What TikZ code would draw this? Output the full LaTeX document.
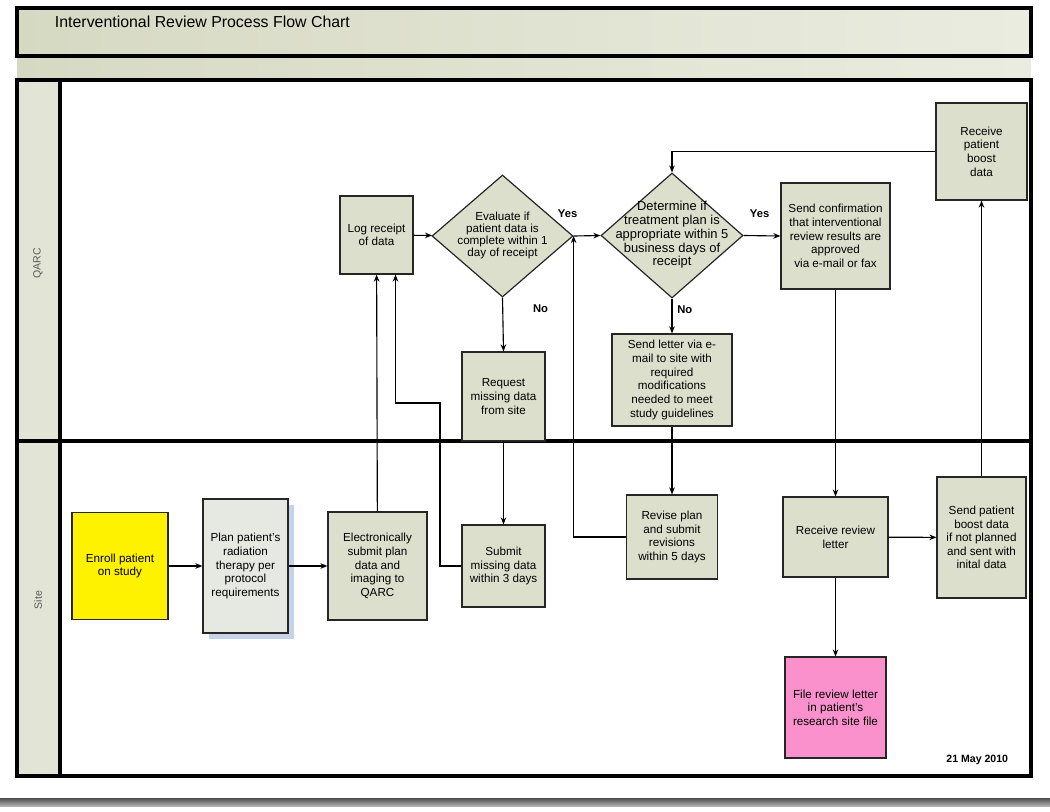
\documentclass[tikz,border=0pt]{standalone}
\usepackage{fontspec}
\setmainfont{Liberation Sans}
\usetikzlibrary{positioning,arrows.meta,shapes,calc,shadows}

\definecolor{boxfill}{RGB}{221,223,205}
\definecolor{bandleft}{RGB}{214,217,194}
\definecolor{bandright}{RGB}{234,236,224}
\definecolor{lanefill}{RGB}{226,228,214}
\definecolor{planfill}{RGB}{230,233,226}
\definecolor{shadowblue}{RGB}{198,212,234}
\definecolor{filepink}{RGB}{250,145,205}

% text set inside a diamond without widening it
\newcommand{\dtext}[1]{\smash{\makebox[0pt]{\raisebox{-0.25em}{\begin{tabular}{@{}c@{}}#1\end{tabular}}}}}

\begin{document}
\begin{tikzpicture}[
    x=0.025cm, y=-0.025cm,
    box/.style={rectangle,draw=black!85,fill=boxfill,line width=0.85pt,align=center,inner sep=1pt,font=\fontsize{8.3}{9.7}\selectfont},
    decision/.style={diamond,draw=black!85,fill=boxfill,line width=0.85pt,inner sep=0pt,font=\fontsize{8.3}{8.6}\selectfont},
    arrow/.style={->,>={Stealth[length=5pt,width=4pt]},line width=0.8pt},
    answer/.style={font=\fontsize{8}{9}\selectfont\bfseries},
    lane/.style={rotate=90,font=\fontsize{7.5}{8}\selectfont,text=black!65},
    frame/.style={line width=2.2pt}
]
    \useasboundingbox (0,0) rectangle (1050,811);
    \fill[white] (0,0) rectangle (1050,811);

    % Title and lanes
    \shade[left color=bandleft,right color=bandright] (17,8) rectangle (1031,56);
    \shade[left color=bandleft,right color=bandright] (17,58) rectangle (1031,78);
    \fill[lanefill] (17,80) rectangle (60,776);
    \draw[frame] (17,8) rectangle (1031,56);
    \draw[frame] (17,80) rectangle (1031,776);
    \draw[frame] (60,80) -- (60,776);
    \draw[frame] (17,441) -- (1031,441);
    \shade[top color=black!70,bottom color=black!30] (0,798) rectangle (1050,806);
    \node[anchor=west,font=\fontsize{11.3}{13}\selectfont] (title) at (50,22) {Interventional Review Process Flow Chart};
    \node[lane] (qarc) at (38,263) {QARC};
    \node[lane] (site) at (38,600) {Site};

    % Site lane
    \node[box,fill=yellow,minimum width=2.4cm,minimum height=2.675cm] (enroll) at (120,566) {Enroll patient\\on study};
    \node[box,fill=planfill,minimum width=2.125cm,minimum height=3.35cm,
          drop shadow={shadow xshift=0.15cm,shadow yshift=-0.15cm,fill=shadowblue,opacity=1}] (plan) at (245.5,566) {Plan patient's\\radiation\\therapy per\\protocol\\requirements};
    \node[box,minimum width=2.475cm,minimum height=2.7cm] (submit) at (377.5,566) {Electronically\\submit plan\\data and\\imaging to\\QARC};
    \node[box,minimum width=2.075cm,minimum height=2.05cm] (missing) at (503.5,566) {Submit\\missing data\\within 3 days};
    \node[box,minimum width=2.275cm,minimum height=2.1cm] (revise) at (672,537) {Revise plan\\and submit\\revisions\\within 5 days};
    \node[box,minimum width=2.625cm,minimum height=2cm] (letterin) at (835.5,537) {Receive review\\letter};
    \node[box,minimum width=2.225cm,minimum height=3.025cm] (boostout) at (981.5,537.5) {Send patient\\boost data\\if not planned\\and sent with\\inital data};
    \node[box,fill=filepink,minimum width=2.525cm,minimum height=2.525cm] (file) at (835.5,707.5) {File review letter\\in patient's\\research site file};
    \node[anchor=east,font=\fontsize{7.5}{9}\selectfont\bfseries] (date) at (1013,760) {21 May 2010};

    % QARC lane
    \node[box,minimum width=1.825cm,minimum height=1.95cm] (log) at (376.5,235) {Log receipt\\of data};
    \node[decision,minimum width=3.525cm,minimum height=3.05cm] (eval) at (502.5,236) {\dtext{Evaluate if\\patient data is\\complete within 1\\day of receipt}};
    \node[decision,minimum width=3.55cm,minimum height=3.125cm,font=\fontsize{9.2}{9.8}\selectfont] (det) at (672,235.5) {\dtext{Determine if\\treatment plan is\\appropriate within 5\\business days of\\receipt}};
    \node[box,minimum width=2.075cm,minimum height=2.225cm] (request) at (503.5,396.5) {Request\\missing data\\from site};
    \node[box,minimum width=3cm,minimum height=2.3cm] (letter) at (672,380) {Send letter via e-\\mail to site with\\required\\modifications\\needed to meet\\study guidelines};
    \node[box,minimum width=2.725cm,minimum height=2.65cm] (confirm) at (835.5,236) {Send confirmation\\that interventional\\review results are\\approved\\via e-mail or fax};
    \node[box,minimum width=2.275cm,minimum height=2.425cm] (boostin) at (981.5,151.5) {Receive\\patient\\boost\\data};

    % Arrows
    \draw[arrow] (enroll) -- (plan);
    \draw[arrow] (plan) -- (submit);
    \draw[arrow] (submit) -- (log);
    \draw[arrow] (log) -- (eval);
    \draw[arrow] (eval.east) -- (det.west) node[answer,pos=0,xshift=-0.15cm,yshift=0.55cm] {Yes};
    \draw[arrow] (eval.south) -- (request.north) node[answer,pos=0,xshift=0.95cm,yshift=-0.27cm] {No};
    \draw[arrow] (request) -- (missing);
    \coordinate (bend) at (440,403);
    \draw[arrow] (missing.west) -| (bend) -| ([xshift=0.475cm]log.south);
    \draw[arrow] (det.south) -- (letter.north) node[answer,pos=0,xshift=0.32cm,yshift=-0.27cm] {No};
    \draw[arrow] (letter) -- (revise);
    \draw[arrow] (revise.west) -| (eval.east);
    \draw[arrow] (det.east) -- (confirm.west) node[answer,pos=0,xshift=0.4cm,yshift=0.55cm] {Yes};
    \draw[arrow] (boostin.west) -| (det.north);
    \draw[arrow] (confirm) -- (letterin);
    \draw[arrow] (letterin) -- (boostout);
    \draw[arrow] (boostout) -- (boostin);
    \draw[arrow] (letterin) -- (file);
\end{tikzpicture}
\end{document}
